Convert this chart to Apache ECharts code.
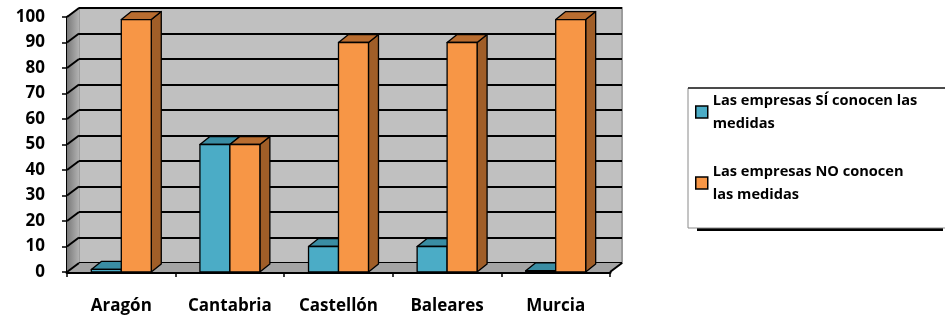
<!DOCTYPE html>
<html>
<head>
<meta charset="utf-8">
<script src="https://cdn.jsdelivr.net/npm/echarts@6/dist/echarts.min.js"></script>
<style>
  html, body { margin: 0; padding: 0; background: #fff; }
  #chart { width: 945px; height: 320px; }
</style>
</head>
<body>
<div id="chart"></div>
<script>
// Regions surveyed
const regions = ['Aragón', 'Cantabria', 'Castellón', 'Baleares', 'Murcia'];
// Share of companies (%) that know / do not know the measures
const siConocen = [1, 50, 10, 10, 0.5];
const noConocen = [99, 50, 90, 90, 99];
// Value axis ticks
const yTicks = [0, 10, 20, 30, 40, 50, 60, 70, 80, 90, 100];

const seriesNames = ['Las empresas SÍ conocen las medidas', 'Las empresas NO conocen las medidas'];
const legendLabels = ['Las empresas SÍ conocen las\nmedidas', 'Las empresas NO conocen\nlas medidas'];

// Pseudo-3D geometry: wall depth and bar depth (screen offsets)
const WALL_DX = 12, WALL_DY = -9;
const BAR_DX = 10, BAR_DY = -8;
const BAR_SHARE = 0.276;   // each bar's width relative to a category band
const EDGE = '#000';

const FONT = '"Open Sans"';
const WEIGHT = 'bold';

const chart = echarts.init(document.getElementById('chart'), null, { renderer: 'canvas' });

const palette = [
  { front: '#4BACC6', top: '#3A8DA3', side: '#2F7A8E' },
  { front: '#F79646', top: '#B96D30', side: '#A05E28' }
];

function barRenderer(side, colors) {
  return function (params, api) {
    const cat = api.value(0), val = api.value(1);
    const base = api.coord([cat, 0]);
    const top = api.coord([cat, val]);
    const bw = api.size([1, 0])[0] * BAR_SHARE;
    const x0 = side < 0 ? base[0] - bw : base[0];
    const x1 = x0 + bw;
    const yb = base[1], yt = top[1];
    const st = { stroke: EDGE, lineWidth: 1.3, lineJoin: 'round' };
    return {
      type: 'group',
      children: [
        { type: 'polygon', shape: { points: [[x1, yt], [x1 + BAR_DX, yt + BAR_DY], [x1 + BAR_DX, yb + BAR_DY], [x1, yb]] },
          style: Object.assign({ fill: colors.side }, st) },
        { type: 'polygon', shape: { points: [[x0, yt], [x0 + BAR_DX, yt + BAR_DY], [x1 + BAR_DX, yt + BAR_DY], [x1, yt]] },
          style: Object.assign({ fill: colors.top }, st) },
        { type: 'rect', shape: { x: x0, y: yt, width: bw, height: yb - yt },
          style: Object.assign({ fill: colors.front }, st) }
      ]
    };
  };
}

// Left side wall, floor and the wall's slanted grid lines
function wallRenderer(params, api) {
  const n = regions.length;
  const p0 = api.coord([0, 0]);
  const bw = api.size([1, 0])[0];
  const xl = p0[0] - bw / 2;
  const xr = xl + bw * n;
  const y0 = p0[1];
  const y100 = api.coord([0, 100])[1];
  const children = [];
  children.push({
    type: 'polygon',
    shape: { points: [[xl, y0], [xl, y100], [xl + WALL_DX, y100 + WALL_DY], [xl + WALL_DX, y0 + WALL_DY]] },
    style: { fill: { type: 'linear', x: 0, y: 0, x2: 1, y2: 0,
      colorStops: [{ offset: 0, color: '#7a7a7a' }, { offset: 1, color: '#b2b2b2' }] } }
  });
  children.push({
    type: 'polygon',
    shape: { points: [[xl, y0], [xr, y0], [xr + WALL_DX, y0 + WALL_DY], [xl + WALL_DX, y0 + WALL_DY]] },
    style: { fill: '#a4a4a4' }
  });
  yTicks.forEach(function (t) {
    const y = api.coord([0, t])[1];
    children.push({ type: 'line', shape: { x1: xl, y1: y, x2: xl + WALL_DX, y2: y + WALL_DY },
      style: { stroke: '#000', lineWidth: 2 } });
  });
  children.push({ type: 'line', shape: { x1: xr, y1: y0, x2: xr + WALL_DX, y2: y0 + WALL_DY },
    style: { stroke: '#000', lineWidth: 2 } });
  return { type: 'group', children: children };
}

const GRID_LEFT = 67, GRID_TOP = 17, GRID_W = 543, GRID_H = 255;

const option = {
  backgroundColor: '#fff',
  animation: false,
  grid: [
    { // back wall
      left: GRID_LEFT + WALL_DX, top: GRID_TOP + WALL_DY, width: GRID_W, height: GRID_H,
      show: true, backgroundColor: '#c0c0c0', borderColor: '#9c9c9c', borderWidth: 2
    },
    { // front plane
      left: GRID_LEFT, top: GRID_TOP, width: GRID_W, height: GRID_H
    }
  ],
  xAxis: [
    { gridIndex: 0, type: 'category', data: regions, show: false },
    {
      gridIndex: 1, type: 'category', data: regions,
      axisLine: { show: true, lineStyle: { color: '#000', width: 3 } },
      axisTick: { show: true, length: 5, lineStyle: { color: '#000', width: 1.5 } },
      axisLabel: { interval: 0, margin: 26, color: '#000', fontFamily: FONT, fontWeight: WEIGHT, fontSize: 17 },
      splitLine: { show: false }
    }
  ],
  yAxis: [
    {
      gridIndex: 0, type: 'value', min: 0, max: 100, interval: 10,
      axisLine: { show: false }, axisTick: { show: false }, axisLabel: { show: false },
      splitLine: { show: true, lineStyle: { color: '#000', width: 2 } }
    },
    {
      gridIndex: 1, type: 'value', min: 0, max: 100, interval: 10,
      axisLine: { show: true, lineStyle: { color: '#000', width: 3 } },
      axisTick: { show: true, length: 5, lineStyle: { color: '#000', width: 1.5 } },
      axisLabel: { margin: 22, color: '#000', fontFamily: FONT, fontWeight: WEIGHT, fontSize: 17,
        formatter: function (v) { return yTicks.indexOf(v) >= 0 ? String(v) : ''; } },
      splitLine: { show: false }
    }
  ],
  legend: {
    orient: 'vertical', left: 695, top: 77.5, padding: 0,
    itemWidth: 12, itemHeight: 12, itemGap: 2,
    icon: 'rect',
    data: seriesNames,
    formatter: function (name) { return legendLabels[seriesNames.indexOf(name)]; },
    textStyle: { color: '#000', fontFamily: FONT, fontWeight: WEIGHT, fontSize: 14.6,
      lineHeight: 23, padding: [23, 0, 0, 0] },
    itemStyle: { borderColor: '#000', borderWidth: 1.5 }
  },
  graphic: [
    { type: 'rect', z: -1, shape: { x: 697, y: 89, width: 246, height: 142 }, style: { fill: '#000' } },
    { type: 'rect', z: -1, shape: { x: 688, y: 88, width: 262, height: 140 },
      style: { fill: '#fff', stroke: '#8a8a8a', lineWidth: 1 } },
    { type: 'line', z: -1, shape: { x1: 688, y1: 88, x2: 945, y2: 88 }, style: { stroke: '#222', lineWidth: 1.5 } }
  ],
  series: [
    {
      type: 'custom', name: '_walls', xAxisIndex: 1, yAxisIndex: 1, z: 1,
      silent: true, renderItem: wallRenderer, data: [[0, 0]]
    },
    {
      type: 'custom', name: seriesNames[0], xAxisIndex: 1, yAxisIndex: 1, z: 2,
      itemStyle: { color: palette[0].front, borderColor: '#000' },
      renderItem: barRenderer(-1, palette[0]),
      data: regions.map(function (r, i) { return [i, siConocen[i]]; })
    },
    {
      type: 'custom', name: seriesNames[1], xAxisIndex: 1, yAxisIndex: 1, z: 3,
      itemStyle: { color: palette[1].front, borderColor: '#000' },
      renderItem: barRenderer(1, palette[1]),
      data: regions.map(function (r, i) { return [i, noConocen[i]]; })
    }
  ]
};

chart.setOption(option);
</script>
</body>
</html>
